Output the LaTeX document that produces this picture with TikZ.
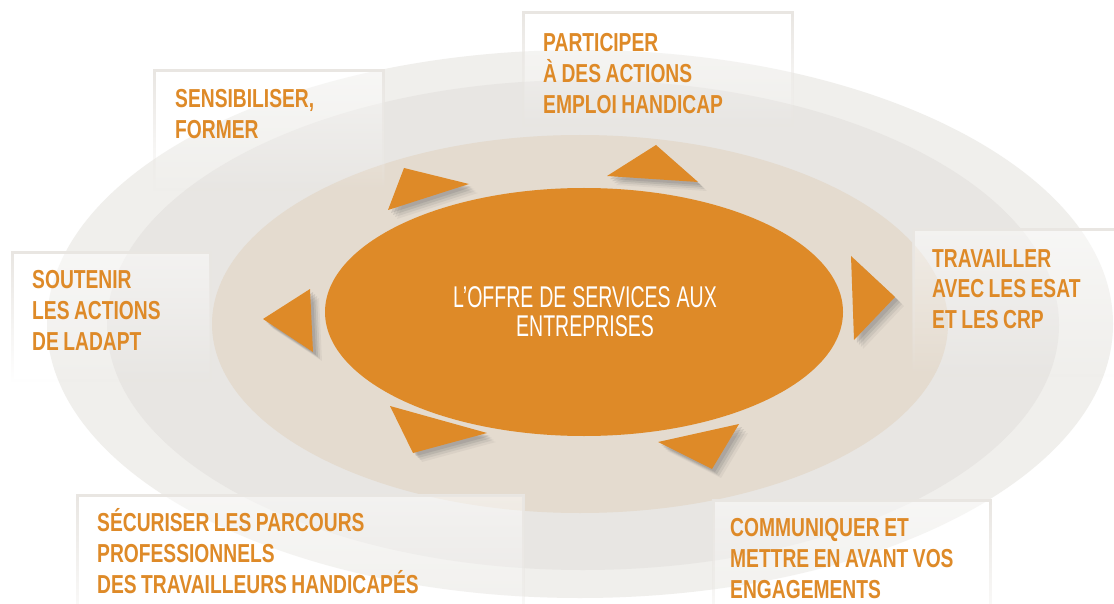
\documentclass[tikz,border=0pt]{standalone}
\usepackage{fontspec}
\usetikzlibrary{shadows,fadings}
\newfontfamily\labelfont{Liberation Sans}[FakeStretch=0.74]
\newfontfamily\centrefont{Liberation Sans}[FakeStretch=0.65]
\newcommand\boxtextfont{\labelfont\bfseries\fontsize{26}{31}\selectfont\spaceskip=4.5pt\relax}
\newcommand\centretextfont{\centrefont\fontsize{30}{29}\selectfont\spaceskip=6pt\relax}
\definecolor{ringA}{HTML}{F0EFEC}
\definecolor{ringB}{HTML}{E8E6E3}
\definecolor{ringC}{HTML}{E4DBCF}
\definecolor{offre}{HTML}{DE8A28}
\definecolor{boxline}{HTML}{E9E6E2}
\tikzfading[name=boxfade, top color=transparent!0, bottom color=transparent!100]

\begin{document}
\begin{tikzpicture}[x=1pt, y=-1pt,
	panel/.style={fill=white, fill opacity=.5, draw=boxline, line width=3pt, path fading=boxfade},
	boxtext/.style={anchor=base west, inner sep=0, text width=330pt, align=flush left, text=offre, font=\boxtextfont},
	arrowtri/.style={fill=offre,
		drop shadow={shadow xshift=3pt, shadow yshift=-3pt, opacity=.18, fill=black!60},
		drop shadow={shadow xshift=5pt, shadow yshift=-5pt, opacity=.16, fill=black!60},
		drop shadow={shadow xshift=7pt, shadow yshift=-7pt, opacity=.12, fill=black!60},
		drop shadow={shadow xshift=9pt, shadow yshift=-9pt, opacity=.08, fill=black!60}}]
			\fill[white] (0,0) rectangle (1114,604);
			\useasboundingbox (0,0) rectangle (1114,604);
			\fill[ringA] (580,324) ellipse [x radius=533, y radius=274];
			\fill[ringB] (583,325) ellipse [x radius=476, y radius=245];
			\fill[ringC] (580,324) ellipse [x radius=368, y radius=189];
			\fill[offre] (584,312) ellipse [x radius=259, y radius=124];
			\node[anchor=base, inner sep=0, text width=400pt, align=flush center, text=white, font=\centretextfont] (offre) at (585,307) {L’OFFRE DE SERVICES AUX\\ENTREPRISES};
			\fill[arrowtri] (404,168) -- (469,184) -- (388,210) -- cycle;
			\fill[arrowtri] (656,145) -- (698,182) -- (607,176) -- cycle;
			\fill[arrowtri] (851,256) -- (895,297) -- (854,340) -- cycle;
			\fill[arrowtri] (263,319) -- (310,289) -- (313,352) -- cycle;
			\fill[arrowtri] (390,406) -- (487,433) -- (413,453) -- cycle;
			\fill[arrowtri] (658,442) -- (739,424) -- (712,469) -- cycle;
			\draw[panel] (155,71) rectangle (384,190);
			\node[boxtext] (sensibiliser) at (175,108) {SENSIBILISER,\\FORMER};
			\draw[panel] (524,13) rectangle (793,125);
			\node[boxtext] (participer) at (543,52) {PARTICIPER\\À DES ACTIONS\\EMPLOI HANDICAP};
			\draw[panel] (913,230) rectangle (1130,375);
			\node[boxtext] (travailler) at (932,267) {TRAVAILLER\\AVEC LES ESAT\\ET LES CRP};
			\draw[panel] (12,252) rectangle (210,380);
			\node[boxtext] (soutenir) at (32,288) {SOUTENIR\\LES ACTIONS\\DE LADAPT};
			\draw[panel] (78,496) rectangle (524,640);
			\node[boxtext] (securiser) at (97,531) {SÉCURISER LES PARCOURS\\PROFESSIONNELS\\DES TRAVAILLEURS HANDICAPÉS};
			\draw[panel] (713,500) rectangle (990,640);
			\node[boxtext] (communiquer) at (730,536) {COMMUNIQUER ET\\METTRE EN AVANT VOS\\ENGAGEMENTS};
\end{tikzpicture}
\end{document}
